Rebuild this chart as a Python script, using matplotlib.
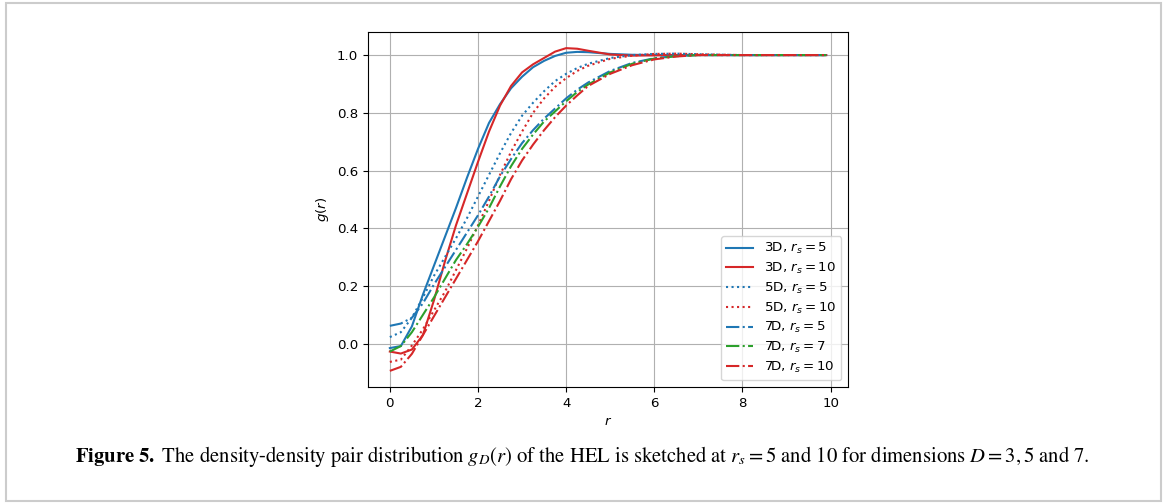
import matplotlib
matplotlib.use("Agg")
import matplotlib.pyplot as plt
from matplotlib.patches import Rectangle

# sample radii shared by all curves
r = [0, 0.25, 0.5, 0.75, 1.0, 1.25, 1.5, 1.75, 2.0, 2.25, 2.5, 2.75, 3.0,
     3.25, 3.5, 3.75, 4.0, 4.25, 4.5, 5.0, 5.5, 6.0, 6.5, 7.0, 8.0, 9.9]

# g(r) for each dimension / r_s pair
g3_rs5 = [-0.015, -0.008, 0.06, 0.17, 0.27, 0.37, 0.47, 0.575, 0.675, 0.765, 0.83,
          0.885, 0.925, 0.958, 0.98, 0.997, 1.008, 1.011, 1.01, 1.004, 1.001, 1.0,
          1.0, 1.0, 1.0, 1.0]
g3_rs10 = [-0.027, -0.034, -0.02, 0.03, 0.15, 0.285, 0.41, 0.52, 0.63, 0.735, 0.825,
           0.893, 0.94, 0.968, 0.99, 1.012, 1.024, 1.022, 1.015, 1.002, 0.998, 0.999,
           1.0, 1.0, 1.0, 1.0]
g5_rs5 = [0.023, 0.04, 0.09, 0.16, 0.235, 0.30, 0.365, 0.435, 0.51, 0.585, 0.66,
          0.73, 0.79, 0.835, 0.875, 0.91, 0.935, 0.955, 0.97, 0.99, 1.0, 1.004,
          1.005, 1.003, 1.0, 1.0]
g5_rs10 = [-0.063, -0.055, -0.006, 0.05, 0.115, 0.18, 0.255, 0.33, 0.41, 0.495, 0.585,
           0.665, 0.735, 0.80, 0.85, 0.89, 0.92, 0.945, 0.963, 0.987, 0.998, 1.004,
           1.005, 1.003, 1.0, 1.0]
g7_rs5 = [0.062, 0.07, 0.09, 0.14, 0.205, 0.265, 0.325, 0.385, 0.445, 0.51, 0.58,
          0.64, 0.695, 0.74, 0.78, 0.815, 0.85, 0.88, 0.905, 0.945, 0.973, 0.989,
          0.997, 1.0, 1.0, 1.0]
g7_rs7 = [-0.027, -0.008, 0.04, 0.1, 0.16, 0.225, 0.29, 0.345, 0.405, 0.47, 0.545,
          0.615, 0.675, 0.725, 0.77, 0.805, 0.84, 0.872, 0.898, 0.94, 0.97, 0.988,
          0.996, 1.0, 1.0, 1.0]
g7_rs10 = [-0.094, -0.08, -0.035, 0.03, 0.095, 0.16, 0.225, 0.29, 0.355, 0.425, 0.495,
           0.57, 0.635, 0.69, 0.74, 0.785, 0.825, 0.86, 0.893, 0.935, 0.965, 0.985,
           0.995, 1.0, 1.0, 1.0]

curves = [
    (g3_rs5, 'tab:blue', '-', '3D, $r_s = 5$'),
    (g3_rs10, 'tab:red', '-', '3D, $r_s = 10$'),
    (g5_rs5, 'tab:blue', ':', '5D, $r_s = 5$'),
    (g5_rs10, 'tab:red', ':', '5D, $r_s = 10$'),
    (g7_rs5, 'tab:blue', '-.', '7D, $r_s = 5$'),
    (g7_rs7, 'tab:green', '-.', '7D, $r_s = 7$'),
    (g7_rs10, 'tab:red', '-.', '7D, $r_s = 10$'),
]

fig = plt.figure(figsize=(11.65, 5.04), dpi=100)
ax = fig.add_axes([0.3159, 0.2321, 0.412, 0.7044])

for g, color, ls, label in curves:
    ax.plot(r, g, color=color, linestyle=ls, label=label)

ax.set_xticks([0, 2, 4, 6, 8, 10])
ax.set_yticks([0.0, 0.2, 0.4, 0.6, 0.8, 1.0])
ax.tick_params(labelsize=9.6)
ax.set_xlabel('$r$', fontsize=9.6)
ax.set_ylabel('$g(r)$', fontsize=9.6)
ax.grid(True)
ax.legend(loc='lower right', fontsize=9.6, labelspacing=0.35)

# caption below the plot
fig.text(0.5, 0.095,
         r'$\mathbf{Figure\ 5.}$ The density-density pair distribution $g_D(r)$ of the HEL '
         r'is sketched at $r_s = 5$ and 10 for dimensions $D = 3, 5$ and 7.',
         ha='center', va='center', fontsize=14.9, family='STIXGeneral',
         math_fontfamily='stix')

# thin frame around the whole figure
fig.patches.append(Rectangle((6 / 1165, 3 / 504), 1155 / 1165, 498 / 504,
                             transform=fig.transFigure, fill=False,
                             edgecolor='#cccccc', linewidth=1.5))

fig.savefig('out.png', dpi=100)
